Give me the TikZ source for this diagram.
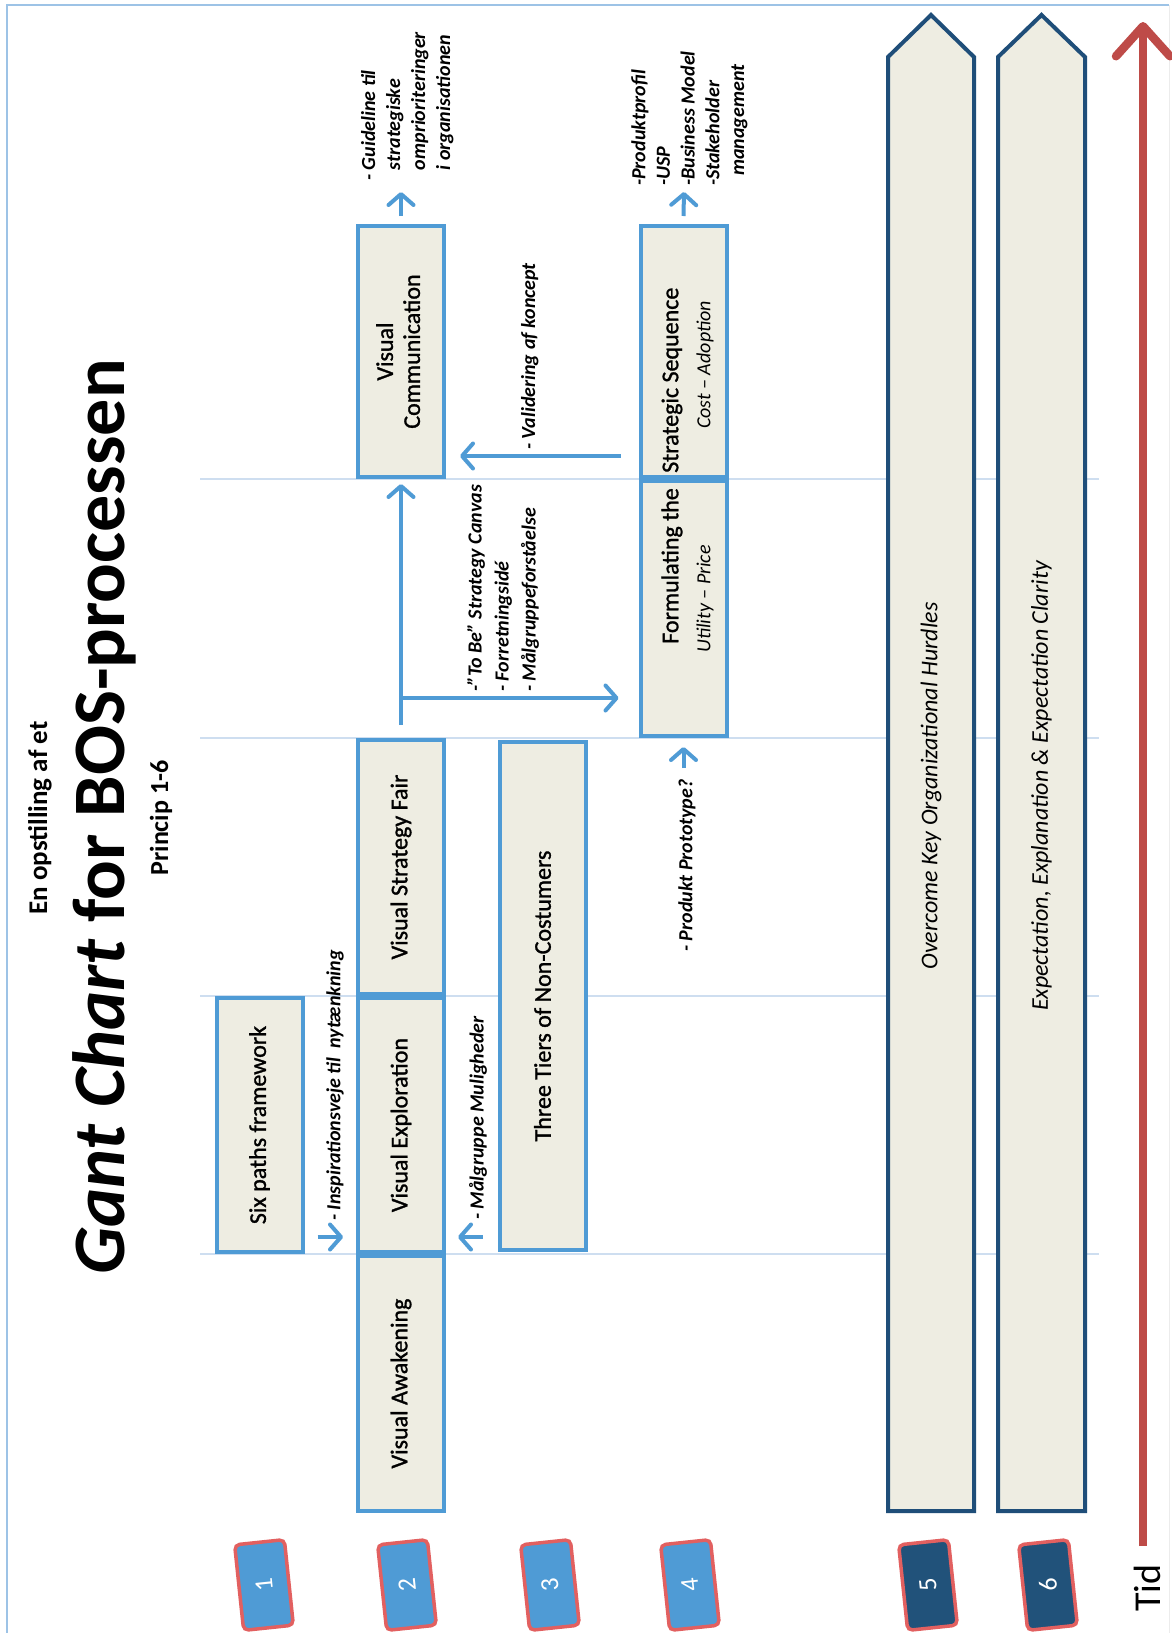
\documentclass[tikz,border=0pt]{standalone}
\usepackage{fontspec}
\setmainfont{Carlito}
\newfontfamily\heavyfont{Carlito}[FakeBold=1.2]
\usepackage{graphicx}
\usetikzlibrary{arrows.meta,calc}

\definecolor{boxfill}{RGB}{238,237,226}
\definecolor{boxline}{RGB}{79,155,213}
\definecolor{gridline}{RGB}{206,222,240}
\definecolor{frameline}{RGB}{157,195,230}
\definecolor{navy}{RGB}{31,78,121}
\definecolor{tagred}{RGB}{226,96,96}
\definecolor{tagblue}{RGB}{79,155,213}
\definecolor{tagdark}{RGB}{33,82,122}
\definecolor{timeline}{RGB}{190,75,72}

\newcommand{\vtext}[1]{\rotatebox{90}{#1}}

\begin{document}
\begin{tikzpicture}[x=1pt,y=-1pt,
  box/.style={draw=boxline,line width=4pt,fill=boxfill,inner sep=0pt,
    minimum width=86pt,font=\heavyfont\fontsize{24}{27}\selectfont},
  bigarrow/.style={draw=navy,line width=4pt,fill=boxfill,line join=miter},
  conn/.style={draw=boxline,line width=4pt,
    -{Straight Barb[length=11pt,width=25pt,round]}},
  note/.style={rotate=90,inner sep=0pt,align=left,
    font=\fontsize{20}{25}\selectfont\bfseries\itshape},
  vlabel/.style={rotate=90,inner sep=0pt},
  tagbox/.style={rotate=6,rounded corners=5pt,draw=tagred,line width=3.5pt,
    minimum width=50pt,minimum height=86pt,inner sep=0pt,text=white,
    font=\fontsize{26}{26}\selectfont},
  grid/.style={draw=gridline,line width=1.5pt}
]
\useasboundingbox (0,0) rectangle (1171,1633);
\fill[white] (0,0) rectangle (1171,1633);

% page frame
\draw[frameline,line width=2pt] (7,1640) -- (7,5) -- (1169,5);
\draw[gray!15,line width=1pt] (1169,5) -- (1169,1640);

% phase separators
\foreach \gy in {479,738,996,1254}
  \draw[grid] (200,\gy) -- (1099,\gy);

% headings
\node[vlabel,font=\fontsize{27}{27}\selectfont\bfseries] (pre) at (40,818) {En opstilling af et};
\node[vlabel,font=\fontsize{74}{74}\selectfont\bfseries] (title) at (104,817) {\textit{Gant Chart} for BOS-processen};
\node[vlabel,font=\fontsize{26}{26}\selectfont\bfseries] (princip) at (161,818) {Princip 1-6};

% activity boxes
\node[box,minimum height=254pt] (six) at (259.5,1125) {\vtext{Six paths framework}};
\node[box,minimum height=255pt] (awaken) at (401,1383.5) {\vtext{Visual Awakening}};
\node[box,minimum height=254pt] (explore) at (401,1125) {\vtext{Visual Exploration}};
\node[box,minimum height=254pt] (fair) at (401,867) {\vtext{Visual Strategy Fair}};
\node[box,minimum height=251pt] (comm) at (401,351.5)
  {\vtext{\begin{tabular}{@{}c@{}}Visual\\Communication\end{tabular}}};
\node[box,minimum height=508pt] (tiers) at (542.5,996) {\vtext{Three Tiers of Non-Costumers}};
\node[box,minimum height=255pt] (form) at (683.5,608.5) {};
\node[box,minimum height=251pt] (strat) at (683.5,351.5) {};
\node[vlabel,anchor=east,font=\heavyfont\fontsize{24}{27}\selectfont] (formtxt) at (672,488) {Formulating the};
\node[vlabel,anchor=west,font=\heavyfont\fontsize{24}{27}\selectfont] (strattxt) at (672,473) {Strategic Sequence};
\node[vlabel,font=\fontsize{20}{24}\selectfont\itshape] (utility) at (705,599) {Utility – Price};
\node[vlabel,font=\fontsize{20}{24}\selectfont\itshape] (cost) at (705,365) {Cost – Adoption};

% long-running principles
\draw[bigarrow] (888,1511) -- (888,57) -- (931,15) -- (974,57) -- (974,1511) -- cycle;
\draw[bigarrow] (998,1511) -- (998,57) -- (1041.5,15) -- (1085,57) -- (1085,1511) -- cycle;
\node[vlabel,font=\fontsize{24}{24}\selectfont\itshape] (hurdles) at (931,786) {Overcome Key Organizational Hurdles};
\node[vlabel,font=\fontsize{24}{24}\selectfont\itshape] (clarity) at (1041.5,786) {Expectation, Explanation \& Expectation Clarity};

% flows between activities
\coordinate (iy) at (0,1237);
\draw[conn] ([xshift=13pt]six.east |- iy) -- ([xshift=-13pt]explore.west |- iy);
\draw[conn] ([xshift=-15pt]tiers.west |- iy) -- ([xshift=12pt]explore.east |- iy);
\coordinate (branch) at ([yshift=40pt]fair.north);
\draw[conn,shorten >=5pt] ([yshift=13pt]fair.north) -- (comm.south);
\draw[conn,shorten >=20pt] (branch) -- (branch -| form.west);
\coordinate (vy) at (0,456);
\draw[conn,shorten <=18pt,shorten >=14pt] (strat.west |- vy) -- (comm.east |- vy);
\coordinate (gtip) at (401,192);
\draw[conn] ([yshift=8pt]comm.north) -- (gtip);
\coordinate (ptip) at (684,192);
\draw[conn] ([yshift=8pt]strat.north) -- (ptip);
\draw[conn] ([yshift=-30pt]form.south) -- ([yshift=-9pt]form.south);

% flow annotations
\node[note,anchor=west] (insp) at (335,1221) {- Inspirationsveje til\ \ nytænkning};
\node[note,anchor=west] (malg) at (478,1220) {- Målgruppe Muligheder};
\node[note,anchor=north west,font=\fontsize{20}{27}\selectfont\bfseries\itshape] (tobe) at (467,692)
  {-”To Be” Strategy Canvas\\- Forretningsidé\\- Målgruppeforståelse};
\node[note,anchor=north west] (valid) at (521,450) {- Validering af koncept};
\node[note,anchor=north west] (guide) at (361,181)
  {- Guideline til\\\hphantom{- }strategiske\\\hphantom{- }omprioriteringer\\\hphantom{- }i organisationen};
\node[note,anchor=north west,font=\fontsize{20}{24.7}\selectfont\bfseries\itshape] (prod) at (631,186)
  {-Produktprofil\\-USP\\-Business Model\\-Stakeholder\\\hspace*{10pt}management};
\node[note,anchor=west] (proto) at (687,952) {- Produkt Prototype?};

% principle tags
\node[tagbox,fill=tagblue] (p1) at (264,1585) {\vtext{1}};
\node[tagbox,fill=tagblue] (p2) at (407,1585) {\vtext{2}};
\node[tagbox,fill=tagblue] (p3) at (550,1585) {\vtext{3}};
\node[tagbox,fill=tagblue] (p4) at (690,1585) {\vtext{4}};
\node[tagbox,fill=tagdark] (p5) at (928,1585) {\vtext{5}};
\node[tagbox,fill=tagdark] (p6) at (1048,1585) {\vtext{6}};

% time axis
\node[vlabel,font=\fontsize{38}{38}\selectfont] (tid) at (1147,1588) {Tid};
\coordinate (ttip) at (1143,22);
\draw[timeline,line width=8.5pt,shorten <=18pt,
  -{Straight Barb[length=30pt,width=54pt,round]}] (tid.east -| ttip) -- (ttip);
\end{tikzpicture}
\end{document}
